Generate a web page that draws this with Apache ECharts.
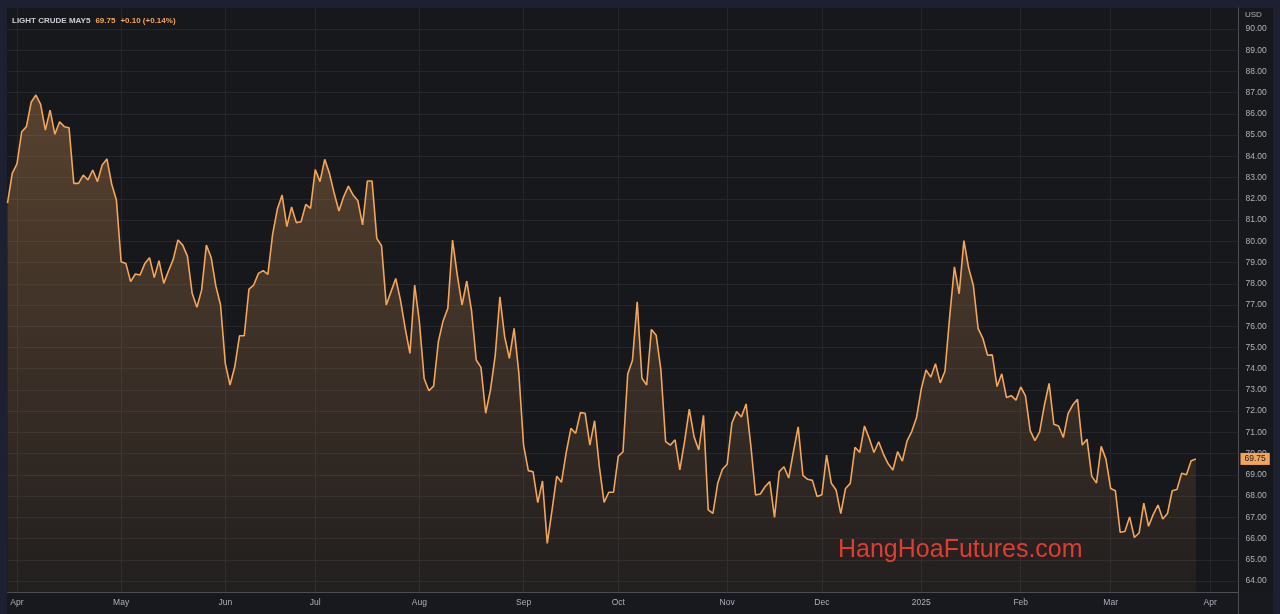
<!DOCTYPE html>
<html>
<head>
<meta charset="utf-8">
<script src="https://cdn.jsdelivr.net/npm/echarts@6/dist/echarts.min.js"></script>
<style>
html,body{margin:0;padding:0;background:#1c2030;}
#c{width:1280px;height:614px;}
</style>
</head>
<body>
<div id="c"></div>
<script>
// ---------------- DATA ----------------
const symbolName = 'LIGHT CRUDE MAY5';
const changeText = '+0.10 (+0.14%)';
const currencyName = 'USD';
const watermarkText = 'HangHoaFutures.com';
const monthNames = ['Jan','Feb','Mar','Apr','May','Jun','Jul','Aug','Sep','Oct','Nov','Dec'];
const yTickMin = 64, yTickMax = 90, yTickStep = 1;

// trading calendar (daily bars): weekdays minus exchange holidays
const calendarStart = '2024-03-27';
const calendarEnd = '2025-04-09';
const holidays = ['2024-03-29','2024-05-27','2024-06-19','2024-07-04','2024-09-02',
  '2024-11-28','2024-12-25','2025-01-01','2025-01-20','2025-02-17'];

// daily closes, by month
const pricesMar24 = [81.80, 83.20];
const pricesApr24 = [83.65,85.16,85.40,86.55,86.89,86.45,85.24,86.18,85.04,85.63,85.40,85.35,82.73,82.73,83.12,82.89,83.36,82.81,83.59,83.88,82.70,81.95];
const pricesMay24 = [79.04,78.96,78.10,78.46,78.41,78.95,79.23,78.29,79.09,78.02,78.60,79.15,80.06,79.82,79.30,77.55,76.89,77.70,79.82,79.25,77.90,77.00];
const pricesJun24 = [74.25,73.23,74.09,75.55,75.55,77.75,77.94,78.49,78.62,78.44,80.34,81.52,82.18,80.69,81.62,80.88,80.92,81.74,81.55];
const pricesJul24 = [83.38,82.81,83.86,83.20,82.26,81.43,82.10,82.60,82.18,81.91,80.77,82.84,82.84,80.14,79.79,77.00,77.63,78.25,77.23,75.90,74.72,77.94];
const pricesAug24 = [76.20,73.54,72.96,73.18,75.27,76.25,76.84,80.06,78.41,77.00,78.13,76.75,74.41,74.06,71.90,72.99,74.60,77.39,75.51,74.49,75.90,73.80];
const pricesSep24 = [70.40,69.20,69.15,67.69,68.71,65.77,67.31,68.94,68.65,70.05,71.19,70.95,71.93,71.90,70.40,71.55,69.40,67.70,68.18,68.18];
const pricesOct24 = [69.87,70.09,73.75,74.40,77.15,73.55,73.23,75.85,75.58,73.95,70.57,70.40,70.65,69.23,70.56,72.10,70.80,70.17,71.80,67.35,67.18,68.60,69.26];
const pricesNov24 = [69.50,71.44,71.98,71.72,72.34,70.38,68.05,68.10,68.44,68.68,66.99,69.15,69.38,68.85,70.10,71.26,68.97,68.79,68.74,67.98];
const pricesDec24 = [68.06,69.93,68.60,68.29,67.17,68.36,68.60,70.30,70.06,71.30,70.72,70.05,70.56,69.98,69.52,69.23,70.09,69.65,70.60,71.05,71.70];
const pricesJan25 = [73.05,73.94,73.60,74.23,73.33,73.88,76.45,78.80,77.53,80.03,78.75,77.92,75.90,75.43,74.63,74.65,73.16,73.76,72.64,72.73,72.52];
const pricesFeb25 = [73.14,72.72,71.08,70.61,71.02,72.28,73.31,71.38,71.30,70.76,71.88,72.30,72.56,70.40,70.68,68.94,68.61,70.34,69.74];
const pricesMar25 = [68.36,68.25,66.30,66.33,67.02,66.05,66.26,67.67,66.58,67.14,67.58,66.92,67.18,68.25,68.31,69.08,69.00,69.66,69.75];

// ---------------- BUILD ----------------
function tradingDays(startStr, endStr, hol) {
  const out = [];
  const hs = new Set(hol);
  let t = Date.parse(startStr + 'T00:00:00Z');
  const end = Date.parse(endStr + 'T00:00:00Z');
  while (t <= end) {
    const d = new Date(t);
    const wd = d.getUTCDay();
    const s = d.toISOString().slice(0, 10);
    if (wd !== 0 && wd !== 6 && !hs.has(s)) out.push(s);
    t += 86400000;
  }
  return out;
}
const dates = tradingDays(calendarStart, calendarEnd, holidays);
const prices = [].concat(pricesMar24, pricesApr24, pricesMay24, pricesJun24, pricesJul24,
  pricesAug24, pricesSep24, pricesOct24, pricesNov24, pricesDec24, pricesJan25, pricesFeb25, pricesMar25);
const lastPrice = prices[prices.length - 1];

function isMonthStart(idx) {
  if (idx <= 0) return false;
  return dates[idx].slice(0, 7) !== dates[idx - 1].slice(0, 7);
}

// layout (pixels)
const plotLeft = 7.5, plotRight = 1238.5, plotTop = 8, plotBottom = 592;
const tickTopPx = 29, tickBottomPx = 581;
const ppu = (tickBottomPx - tickTopPx) / (yTickMax - yTickMin);
const mainMin = yTickMin - (plotBottom - tickBottomPx) / ppu;
const mainMax = yTickMax + (tickTopPx - plotTop) / ppu;

const lineColor = '#f3a65a';
const font = '"Liberation Sans", Arial, sans-serif';

const chart = echarts.init(document.getElementById('c'), null, {renderer: 'canvas'});
chart.setOption({
  backgroundColor: '#1c2030',
  animation: false,
  title: {
    left: 12, top: 12, padding: 0,
    text: '{n|' + symbolName + '} {p|' + lastPrice.toFixed(2) + '} {p|' + changeText + '}',
    textStyle: {
      rich: {
        n: {color: '#c9ccd4', fontSize: 8, fontFamily: font},
        p: {color: lineColor, fontSize: 8, fontFamily: font}
      }
    }
  },
  graphic: [
    {type: 'rect', z: -10, shape: {x: 7, y: 8, width: 1266, height: 606}, style: {fill: '#17181c'}},
    {type: 'rect', z: -9, shape: {x: 7, y: 592, width: 1266, height: 22}, style: {fill: '#18191e'}},
    {type: 'line', z: -8, shape: {x1: plotRight, y1: 592, x2: plotRight, y2: 614}, style: {stroke: '#4b4e57', lineWidth: 1}},
    {type: 'text', left: 1245, top: 11, z: 100,
      style: {text: currencyName, fill: '#aeb1ba', font: '8px ' + font}},
    {type: 'text', left: 838, top: 538, z: 100,
      style: {text: watermarkText, fill: '#e23b30', font: '25px ' + font}}
  ],
  grid: [
    {left: plotLeft, right: 1280 - plotRight, top: plotTop, bottom: 614 - plotBottom, outerBoundsMode: 'none'},
    {left: plotLeft, right: 1280 - plotRight, top: tickTopPx, bottom: 614 - tickBottomPx, outerBoundsMode: 'none'}
  ],
  xAxis: [
    {
      type: 'category', gridIndex: 0, data: dates, boundaryGap: false,
      axisLine: {show: true, lineStyle: {color: '#4b4e57', width: 1}},
      axisTick: {show: false},
      axisLabel: {
        interval: (i) => isMonthStart(i),
        color: '#aeb1ba', fontSize: 8.5, fontFamily: font, margin: 6,
        formatter: (v) => {
          const m = parseInt(v.slice(5, 7), 10) - 1;
          return m === 0 ? v.slice(0, 4) : monthNames[m];
        }
      },
      splitLine: {show: true, interval: (i) => isMonthStart(i), lineStyle: {color: '#25262b', width: 1}}
    },
    {type: 'value', gridIndex: 1, show: false, min: 0, max: 1}
  ],
  yAxis: [
    {
      type: 'value', gridIndex: 0, position: 'right', min: mainMin, max: mainMax,
      axisLine: {show: true, lineStyle: {color: '#4b4e57', width: 1}},
      axisTick: {show: false}, axisLabel: {show: false}, splitLine: {show: false}
    },
    {
      type: 'value', gridIndex: 1, position: 'right',
      min: yTickMin, max: yTickMax, interval: yTickStep,
      axisLine: {show: false}, axisTick: {show: false},
      axisLabel: {color: '#aeb1ba', fontSize: 8.5, fontFamily: font, margin: 7,
        formatter: (v) => v.toFixed(2)},
      splitLine: {show: true, lineStyle: {color: '#25262b', width: 1}}
    }
  ],
  series: [{
    type: 'line', xAxisIndex: 0, yAxisIndex: 0,
    data: prices,
    showSymbol: false, symbol: 'none',
    lineStyle: {color: lineColor, width: 1.6},
    areaStyle: {
      origin: 'start',
      color: new echarts.graphic.LinearGradient(0, 0, 0, 1, [
        {offset: 0, color: 'rgba(243,166,90,0.42)'},
        {offset: 1, color: 'rgba(243,166,90,0.07)'}
      ])
    },
    markLine: {
      silent: true, symbol: 'none',
      lineStyle: {color: 'rgba(0,0,0,0)'},
      label: {
        position: 'end', distance: 2,
        formatter: () => lastPrice.toFixed(2),
        backgroundColor: lineColor, color: '#1a1a1a',
        fontSize: 8.5, fontFamily: font, padding: [2, 4, 1, 4]
      },
      data: [{yAxis: lastPrice}]
    }
  }]
});
</script>
</body>
</html>
